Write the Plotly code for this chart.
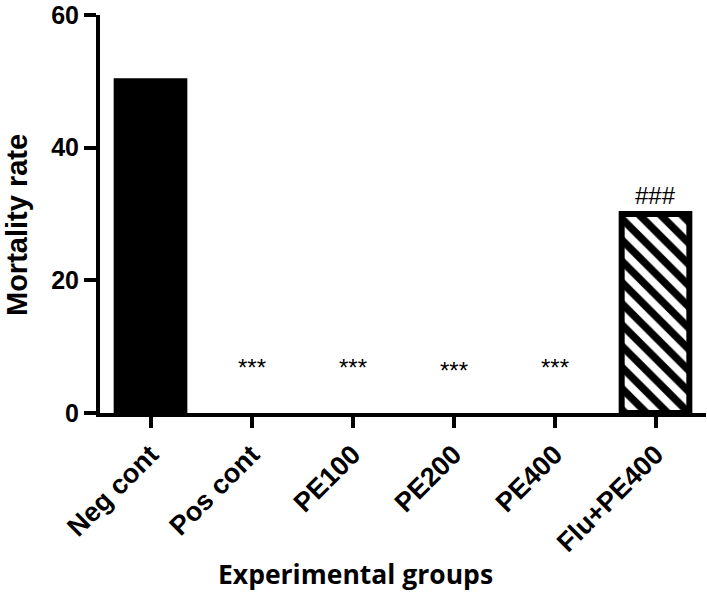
import plotly.graph_objects as go

categories = ["Neg cont", "Pos cont", "PE100", "PE200", "PE400", "Flu+PE400"]
mortality = [50, 0, 0, 0, 0, 30]
sig_labels = ["", "***", "***", "***", "***", "###"]
y_ticks = [0, 20, 40, 60]

AX_FONT = "Liberation Sans, Arial"

fig = go.Figure()
fig.add_trace(go.Bar(
    x=categories[:5], y=mortality[:5], width=0.67,
    marker=dict(color="black",
                line=dict(color="black", width=[6 if v else 0 for v in mortality[:5]])),
    showlegend=False,
))
fig.add_trace(go.Bar(
    x=categories[5:], y=mortality[5:], width=0.67,
    marker=dict(color="white", line=dict(color="black", width=6),
                pattern=dict(shape="\\", fgcolor="black", bgcolor="white", fgopacity=1,
                             size=15, solidity=0.5)),
    showlegend=False,
))

for i, (c, lab) in enumerate(zip(categories, sig_labels)):
    if not lab:
        continue
    if mortality[i] == 0:
        ysh = 46 - (3 if c == "PE200" else 0)
    else:
        ysh = 19
    fig.add_annotation(x=c, y=mortality[i], xref="x", yref="y", text=lab,
                       showarrow=False, yshift=ysh, yanchor="middle",
                       font=dict(family=AX_FONT, size=24, color="black"))

fig.add_annotation(text="Experimental groups", xref="paper", yref="paper",
                   x=(355 - 100) / 606, y=-(574 - 413) / 398, xanchor="center", yanchor="middle",
                   showarrow=False,
                   font=dict(family="Open Sans", size=26.5, color="black", weight="bold"))
fig.add_annotation(text="Mortality rate", xref="paper", yref="paper",
                   x=(17 - 100) / 606, y=(413 - 225) / 398, xanchor="center", yanchor="middle",
                   textangle=-90, showarrow=False,
                   font=dict(family=AX_FONT, size=29, color="black", weight="bold"))

fig.update_layout(
    width=707, height=592,
    margin=dict(l=100, r=1, t=15, b=179),
    plot_bgcolor="white", paper_bgcolor="white",
    barmode="overlay",
    xaxis=dict(range=[-0.5, 5.5], showline=True, linewidth=4, linecolor="black",
               ticks="outside", ticklen=11, tickwidth=4, tickcolor="black",
               tickangle=-45, showgrid=False, zeroline=False,
               tickfont=dict(family=AX_FONT, size=27, color="black", weight="bold")),
    yaxis=dict(range=[0, 60], tickvals=y_ticks, showline=True, linewidth=4, linecolor="black",
               ticks="outside", ticklen=12, tickwidth=4, tickcolor="black",
               showgrid=False, zeroline=False, ticklabeloverflow="allow",
               tickfont=dict(family=AX_FONT, size=25, color="black", weight="bold")),
)

# remove the default page margin so the figure fills the window exactly
fig.write_html("out.html", config={"displayModeBar": False},
               post_script="document.body.style.margin='0px';document.body.style.overflow='hidden';")
